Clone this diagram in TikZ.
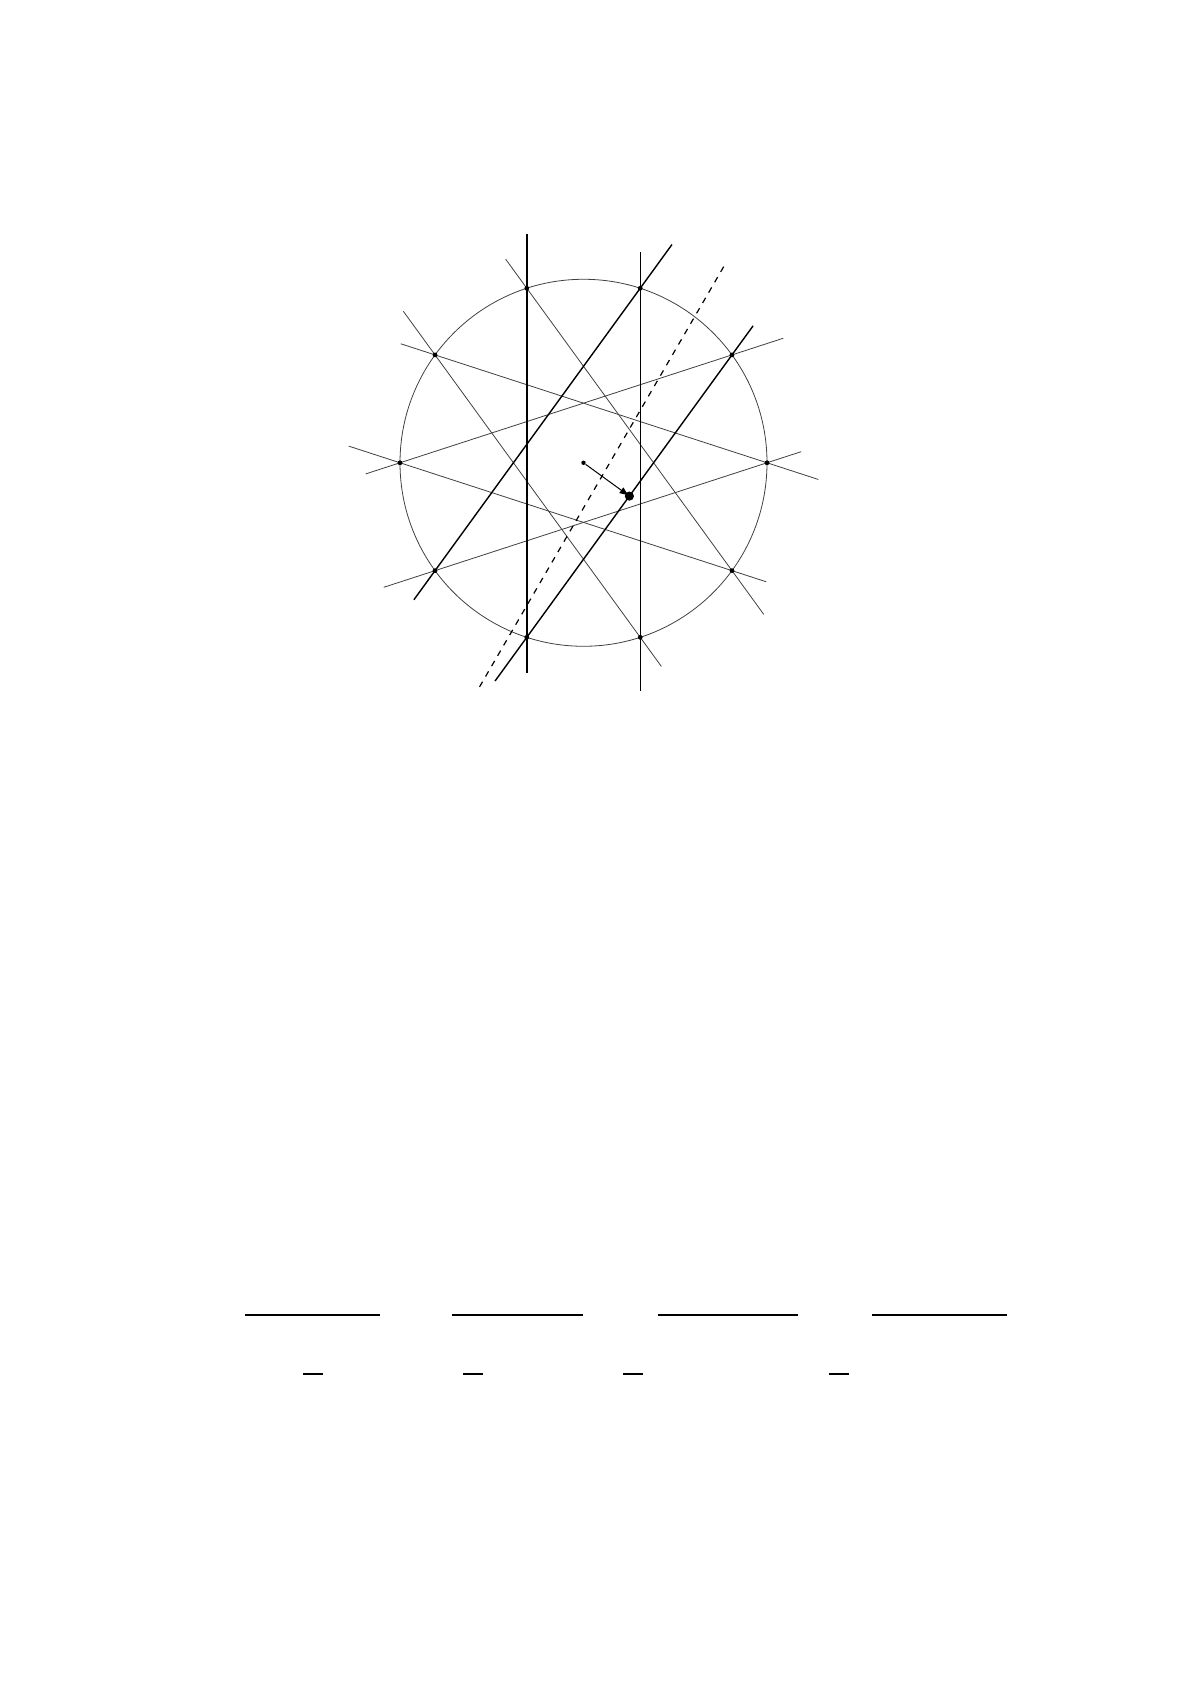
\documentclass[tikz,border=0pt]{standalone}
\usetikzlibrary{calc,arrows.meta}
\begin{document}
\begin{tikzpicture}[x=0.5pt,y=0.5pt,
  thickline/.style={line width=0.7pt,black},
  thinline/.style={line width=0.4pt,black!75},
  dashline/.style={line width=0.6pt,black,dash pattern=on 3pt off 3pt},
  vtx/.style={circle,fill=black,inner sep=0pt,minimum size=2.4pt},
  rulebar/.style={line width=1pt,black}]
\useasboundingbox (0,0) rectangle (1191,1685);
% centre and decagon
\coordinate (C) at (583.5,1222.2);
\foreach \k in {0,...,9}{
  \coordinate (P\k) at ($(C)+(36*\k:91.75pt)$);
}
% P0=0deg, P1=36, P2=72, P3=108, P4=144, P5=180, P6=216, P7=252, P8=288, P9=324
\draw[thinline] (C) circle[radius=91.75pt];
% thin lines
\draw[thinline] ($(P3)!-18pt!(P9)$) -- ($(P9)!-27pt!(P3)$);
\draw[thinline] ($(P4)!-27pt!(P8)$) -- ($(P8)!-18pt!(P4)$);
\draw[thinline] ($(P4)!-18pt!(P0)$) -- ($(P0)!-27pt!(P4)$);
\draw[thinline] ($(P5)!-27pt!(P9)$) -- ($(P9)!-18pt!(P5)$);
\draw[thinline] ($(P5)!-18pt!(P1)$) -- ($(P1)!-27pt!(P5)$);
\draw[thinline] ($(P6)!-27pt!(P0)$) -- ($(P0)!-18pt!(P6)$);
% thick lines
\draw[thickline] ($(P3)!-27pt!(P7)$) -- ($(P7)!-18pt!(P3)$);
\draw[thickline] ($(P2)!-18pt!(P8)$) -- ($(P8)!-27pt!(P2)$);
\draw[thickline] ($(P2)!-27pt!(P6)$) -- ($(P6)!-18pt!(P2)$);
\draw[thickline] ($(P1)!-18pt!(P7)$) -- ($(P7)!-27pt!(P1)$);
% dashed line
\coordinate (D1) at (723.7,1418.3);
\coordinate (D2) at (479.3,997.7);
\draw[dashline] (D1) -- (D2);
% vertices
\foreach \k in {0,...,9}{
  \node[vtx] (V\k) at (P\k) {};
}
% centre, foot and arrow
\coordinate (F) at ($(C)+(-36:28.35pt)$);
\node[circle,fill=black,inner sep=0pt,minimum size=2.2pt] (Cn) at (C) {};
\draw[line width=0.5pt,-{Latex[length=5pt,width=3.6pt]}] (Cn) -- (F);
\node[circle,fill=black,inner sep=0pt,minimum size=4.6pt] (Fn) at (F) {};
% rules at the bottom
\coordinate (R1a) at (245,370.3); \coordinate (R1b) at (380,370.3);
\coordinate (R2a) at (452,370.3); \coordinate (R2b) at (583,370.3);
\coordinate (R3a) at (658,370.3); \coordinate (R3b) at (798,370.3);
\coordinate (R4a) at (872,370.3); \coordinate (R4b) at (1007,370.3);
\draw[rulebar] (R1a) -- (R1b);
\draw[rulebar] (R2a) -- (R2b);
\draw[rulebar] (R3a) -- (R3b);
\draw[rulebar] (R4a) -- (R4b);
\coordinate (M1a) at (303,311.3); \coordinate (M1b) at (323,311.3);
\coordinate (M2a) at (463,311.3); \coordinate (M2b) at (483,311.3);
\coordinate (M3a) at (623,311.3); \coordinate (M3b) at (643,311.3);
\coordinate (M4a) at (829,311.3); \coordinate (M4b) at (849,311.3);
\draw[rulebar] (M1a) -- (M1b);
\draw[rulebar] (M2a) -- (M2b);
\draw[rulebar] (M3a) -- (M3b);
\draw[rulebar] (M4a) -- (M4b);
\end{tikzpicture}
\end{document}
